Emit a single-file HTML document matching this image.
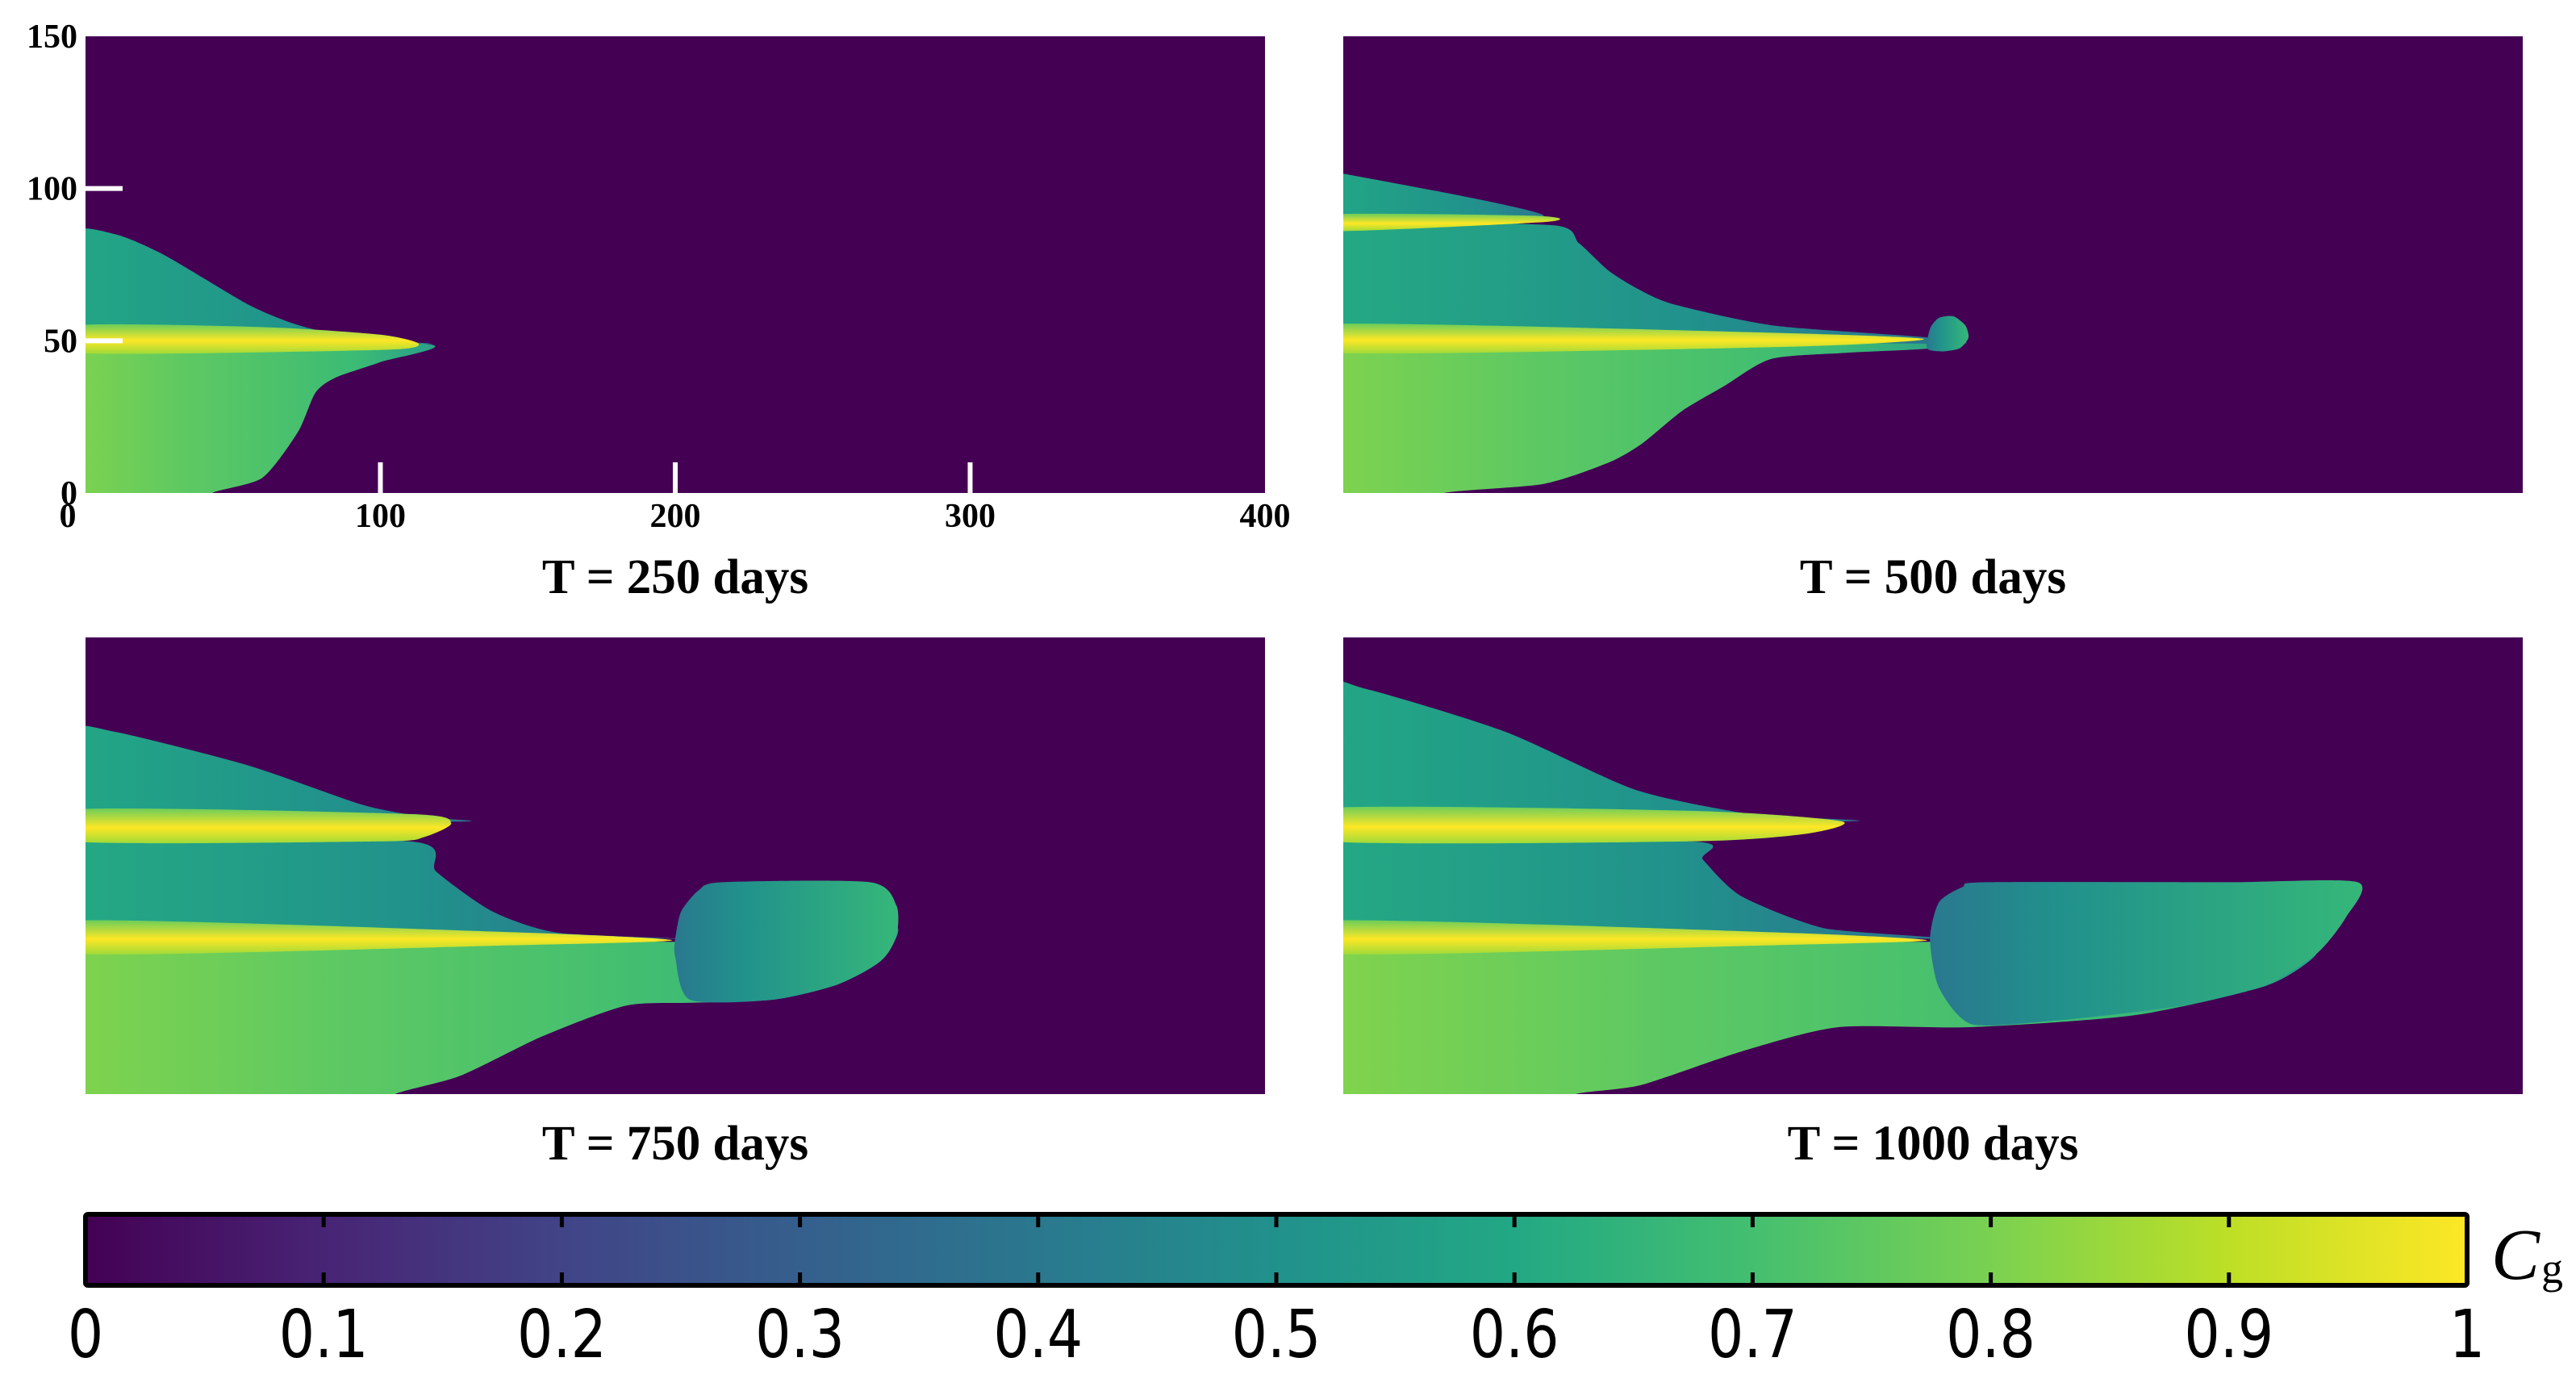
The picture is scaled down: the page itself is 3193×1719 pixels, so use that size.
<!DOCTYPE html>
<html><head><meta charset="utf-8"><style>
html,body{margin:0;padding:0;background:#fff;}
svg{display:block;}
</style></head><body>
<svg id="fig" width="3193" height="1719" viewBox="0 0 3193 1719" xmlns="http://www.w3.org/2000/svg">
<defs>
<linearGradient id="gLow" x1="0" y1="0" x2="1" y2="0"><stop offset="0" stop-color="#86d549"/><stop offset="0.35" stop-color="#5ec962"/><stop offset="0.8" stop-color="#3bbb75"/><stop offset="1" stop-color="#2a9d8a"/></linearGradient>
<linearGradient id="gMid" x1="0" y1="0" x2="1" y2="0"><stop offset="0" stop-color="#25ac82"/><stop offset="0.6" stop-color="#21918c"/><stop offset="1" stop-color="#2c728e"/></linearGradient>
<linearGradient id="gTop" x1="0" y1="0" x2="1" y2="0"><stop offset="0" stop-color="#22a884"/><stop offset="0.7" stop-color="#21918c"/><stop offset="1" stop-color="#2a788e"/></linearGradient>
<linearGradient id="gBand" x1="0" y1="0" x2="0" y2="1"><stop offset="0" stop-color="#6ccd5a"/><stop offset="0.55" stop-color="#fde725"/><stop offset="1" stop-color="#a0da39"/></linearGradient>
<linearGradient id="gBulb" x1="0" y1="0" x2="1" y2="0"><stop offset="0" stop-color="#2a788e"/><stop offset="0.3" stop-color="#21918c"/><stop offset="1" stop-color="#35b779"/></linearGradient>
<linearGradient id="gCbar" x1="0" y1="0" x2="1" y2="0">
<stop offset="0" stop-color="#440154"/><stop offset="0.1" stop-color="#482475"/><stop offset="0.2" stop-color="#414487"/><stop offset="0.3" stop-color="#355f8d"/><stop offset="0.4" stop-color="#2a788e"/><stop offset="0.5" stop-color="#21918c"/><stop offset="0.6" stop-color="#22a884"/><stop offset="0.7" stop-color="#44bf70"/><stop offset="0.8" stop-color="#7ad151"/><stop offset="0.9" stop-color="#bddf26"/><stop offset="1" stop-color="#fde725"/></linearGradient>
</defs>
<g id="panels"></g>
<g id="cbar"></g>
</svg>
<script>
const panelTitles = ["T = 250 days","T = 500 days","T = 750 days","T = 1000 days"];
const xTicks = [100,200,300];
const xTickLabels = [0,100,200,300,400];
const yTickLabels = [0,50,100,150];
const yTicks = [50,100];
const cbarTicks = [0,0.1,0.2,0.3,0.4,0.5,0.6,0.7,0.8,0.9,1];
// plume regions in data units (x: 0-400 m, y: 0-150 m)
const p1Lower = [[-5,-5],[43,-5],[43,0],[60,5],[72,20],[78,33],[85,38],[100,43],[115,49],[-5,50]];
const p1Upper = [[-5,53],[-5,85],[10,85],[27,78],[55,62],[71,55.5],[90,51],[115,49],[-5,53]];
const p1Band = [[-5,55],[60,54.5],[100,52],[113,49],[100,47],[-5,46]];
const p2Lower = [[-5,-5],[34,-5],[34,0],[68,3],[90,10],[101,16],[115,27],[129,35],[145,44],[170,46],[199,47.5],[199,50],[-5,50]];
const p2Top = [[-5,89],[-5,104],[5,104],[68,91],[-5,90]];
const p2UBand = [[-5,91.5],[66,91],[68,89],[-5,86]];
const p2Mid = [[-5,86.5],[70,88],[80,82],[90,73],[100,67],[112,62],[146,55],[199,51],[199,49],[-5,54]];
const p2Band = [[-5,55.5],[150,52.5],[197,50.5],[150,48],[-5,46]];
const p2Bulb = [[198,47.5],[199,54],[202,57.5],[207,58],[211,55],[212,51],[209,47.5],[203,46.5]];
const p3Lower = [[-5,-5],[105,-5],[105,0],[127,6],[155,19],[183,29],[205,30],[233,31],[255,36],[270,44],[275,55],[250,50],[200,50],[-5,50]];
const p3Top = [[-5,88],[-5,119],[10,119],[55,108],[94,95],[115,91],[126,89.5],[-5,89.5]];
const p3UBand = [[-5,93.5],[110,92],[124,89],[115,84.5],[100,83],[-5,83]];
const p3Mid = [[-5,83.5],[110,83],[119,73],[138,60],[160,53],[200,51],[-5,55]];
const p3Band = [[-5,57],[150,53],[199,50.5],[150,49],[-5,46]];
const p3Bulb = [[200,51],[202,60],[208,67],[216,69.6],[266,69.6],[275,62],[275,52],[270,44],[255,36],[233,31],[205,31],[200,45]];
const p4Lower = [[-5,-5],[79,-5],[79,0],[101,3],[135,14],[168,22],[213,22],[269,26],[313,35.6],[330,46],[320,50],[199,50],[-5,50]];
const p4Top = [[-5,89],[-5,133],[8,133],[55,119],[99,100],[138,92],[171,89.6],[-5,89.6]];
const p4UBand = [[-5,94],[120,93],[169,89.6],[157,85.5],[118,83],[-5,83]];
const p4Mid = [[-5,83.5],[118,83],[122,77],[135,65],[163,54.5],[199,51],[-5,55]];
const p4Band = [[-5,57],[150,53],[198,50.5],[150,49],[-5,46]];
const p4Bulb = [[199,51],[202,63],[210,68],[218,69.6],[300,69.6],[344,69.6],[340,58],[330,46],[313,36],[290,30],[269,27],[240,24],[213,23],[202,35]];

const NS="http://www.w3.org/2000/svg";
const panelBoxes=[[106,45],[1665,45],[106,790],[1665,790]];
const PW=1462, PH=566;
const panelShapes=[
 [[p1Lower,"url(#gLow)"],[p1Upper,"url(#gTop)"],[p1Band,"url(#gBand)"]],
 [[p2Lower,"url(#gLow)"],[p2Mid,"url(#gMid)"],[p2Top,"url(#gTop)"],[p2UBand,"url(#gBand)"],[p2Band,"url(#gBand)"],[p2Bulb,"url(#gBulb)"]],
 [[p3Lower,"url(#gLow)"],[p3Mid,"url(#gMid)"],[p3Top,"url(#gTop)"],[p3UBand,"url(#gBand)"],[p3Band,"url(#gBand)"],[p3Bulb,"url(#gBulb)"]],
 [[p4Lower,"url(#gLow)"],[p4Mid,"url(#gMid)"],[p4Top,"url(#gTop)"],[p4UBand,"url(#gBand)"],[p4Band,"url(#gBand)"],[p4Bulb,"url(#gBulb)"]]
];
function mk(tag,attrs,parent){const e=document.createElementNS(NS,tag);for(const k in attrs)e.setAttribute(k,attrs[k]);parent.appendChild(e);return e;}
const root=document.getElementById('panels');
const defs=document.querySelector('defs');
const K=0.12;
panelBoxes.forEach((b,i)=>{
 const [x0,y0]=b;
 const sx=v=>x0+v/400*PW, sy=v=>y0+PH-v/150*PH;
 const cp=mk('clipPath',{id:'clip'+i},defs);
 mk('rect',{x:x0,y:y0,width:PW,height:PH},cp);
 const g=mk('g',{},root);
 
 
 const bg=mk('rect',{x:x0,y:y0,width:PW,height:PH,fill:'#440154'},g);
 
 
 const gc=mk('g',{'clip-path':'url(#clip'+i+')'},g);
 panelShapes[i].forEach(s=>{
  const P=s[0].map(p=>[sx(p[0]),sy(p[1])]);
  const n=P.length;
  let d='M'+P[0][0]+','+P[0][1];
  for(let k=0;k<n;k++){
   const p0=P[(k-1+n)%n],p1=P[k],p2=P[(k+1)%n],p3=P[(k+2)%n];
   const c1=[p1[0]+(p2[0]-p0[0])*K,p1[1]+(p2[1]-p0[1])*K];
   const c2=[p2[0]-(p3[0]-p1[0])*K,p2[1]-(p3[1]-p1[1])*K];
   d+=' C'+c1[0].toFixed(1)+','+c1[1].toFixed(1)+' '+c2[0].toFixed(1)+','+c2[1].toFixed(1)+' '+p2[0].toFixed(1)+','+p2[1].toFixed(1);
  }
  d+='Z';
  const p=mk('path',{d:d,fill:s[1]},gc);
  
  
 });
 const t=mk('text',{x:x0+PW/2,y:i<2?735:1437,'text-anchor':'middle','font-family':'Liberation Serif, serif','font-weight':'bold','font-size':61},g);
 t.textContent=panelTitles[i];
 
 
 if(i===0){
  yTicks.forEach(v=>{const l=mk('line',{x1:x0,x2:x0+46,y1:sy(v),y2:sy(v),stroke:'#fff','stroke-width':6},g);
   });
  xTicks.forEach(v=>{const l=mk('line',{x1:sx(v),x2:sx(v),y1:y0+PH,y2:y0+PH-38,stroke:'#fff','stroke-width':6},g);
   });
  yTickLabels.forEach(v=>{const tt=mk('text',{x:x0-10,y:sy(v)+14,'text-anchor':'end','font-family':'Liberation Serif, serif','font-weight':'bold','font-size':42},g);
   tt.textContent=v;});
  xTickLabels.forEach(v=>{const tt=mk('text',{x:v===0?sx(v)-22:sx(v),y:y0+PH+42,'text-anchor':'middle','font-family':'Liberation Serif, serif','font-weight':'bold','font-size':42},g);
   tt.textContent=v;});
 }
});
// colorbar
const cb=document.getElementById('cbar');
const CX=106,CW=2952,CY=1505,CH=88;
const cx=v=>CX+v*CW;
const cr=mk('rect',{x:CX,y:CY,width:CW,height:CH,fill:'url(#gCbar)',stroke:'#000','stroke-width':6,rx:3},cb);


cbarTicks.forEach(v=>{
 if(v>0&&v<1){
  const l1=mk('line',{x1:cx(v),x2:cx(v),y1:CY,y2:CY+16,stroke:'#000','stroke-width':5},cb);
  
  const l2=mk('line',{x1:cx(v),x2:cx(v),y1:CY+CH-16,y2:CY+CH,stroke:'#000','stroke-width':5},cb);
  
 }
 const t=mk('text',{x:cx(v),y:1682,'text-anchor':'middle','font-family':'DejaVu Sans, sans-serif','font-size':82,'transform':'translate('+cx(v)+',0) scale(0.85,1) translate('+(-cx(v))+',0)'},cb);
 t.textContent=String(v);
 
 
});
const ct=mk('text',{x:3088,y:1585,'font-family':'Liberation Serif, serif','font-style':'italic','font-size':90},cb);
ct.textContent='C';


const cs=mk('text',{x:3150,y:1590,'font-family':'Liberation Serif, serif','font-size':54},cb);
cs.textContent='g';


</script>
</body></html>
